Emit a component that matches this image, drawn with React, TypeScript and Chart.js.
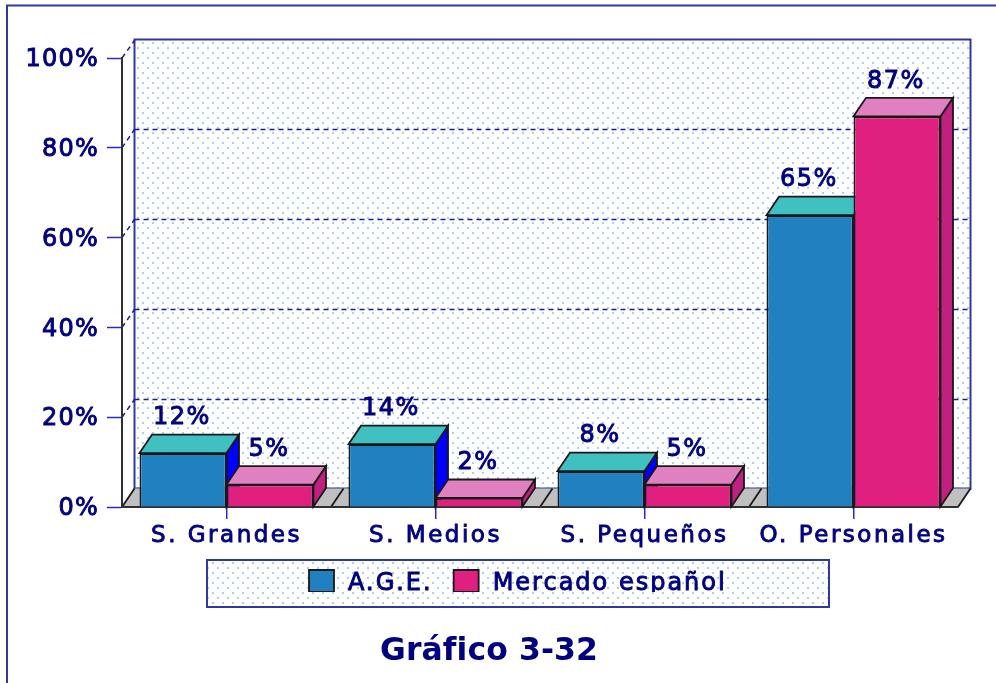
import React, { useEffect, useRef } from "react";
import { Chart, registerables } from "chart.js";

Chart.register(...registerables);

const categories = ["S. Grandes", "S. Medios", "S. Pequeños", "O. Personales"];
const seriesNames = ["A.G.E.", "Mercado español"];
const ageValues = [12, 14, 8, 65];
const mercadoValues = [5, 2, 5, 87];
const chartTitle = "Gráfico 3-32";

const NAVY = "#000080";
const AXIS_BLUE = "#2a2ac8";
const FRAME = "#3038a0";
const EDGE = "#181818";
const FACES = [
  { front: "#2080C0", top: "#40C0C0", side: "#0000FF" },
  { front: "#E0207F", top: "#E080C0", side: "#C02080" },
];
const DX = 12.5;
const DY = 18.5;
const FONT = "'DejaVu Sans', sans-serif";
const TEXT_STROKE = 0.9;

function makePattern(ctx: CanvasRenderingContext2D) {
  const c = document.createElement("canvas");
  c.width = 10;
  c.height = 10;
  const p = c.getContext("2d")!;
  p.fillStyle = "#ffffff";
  p.fillRect(0, 0, 10, 10);
  p.fillStyle = "#a8d0f4";
  p.fillRect(2, 2, 2, 2);
  p.fillRect(7, 7, 2, 2);
  return ctx.createPattern(c, "repeat")!;
}

function quad(ctx: CanvasRenderingContext2D, pts: number[][], fill: string | CanvasPattern | null, stroke: string | null, lw = 1.8) {
  ctx.beginPath();
  pts.forEach((p, i) => (i ? ctx.lineTo(p[0], p[1]) : ctx.moveTo(p[0], p[1])));
  ctx.closePath();
  if (fill) {
    ctx.fillStyle = fill as any;
    ctx.fill();
  }
  if (stroke) {
    ctx.strokeStyle = stroke;
    ctx.lineWidth = lw;
    ctx.lineJoin = "miter";
    ctx.stroke();
  }
}

// Runs a box's draw step with letter spacing and a small text nudge; the
// bundled fonts are narrower and sit higher than the reference's typeface.
function wrapText(obj: any, method: string, spacing: string, ctx: any, dx: number, dy: number, bolden: boolean) {
  const key = "__wrapped_" + method;
  if (obj[key]) return;
  obj[key] = true;
  const orig = obj[method];
  const proto = CanvasRenderingContext2D.prototype;
  obj[method] = function (...args: any[]) {
    ctx.letterSpacing = spacing;
    ctx.fillText = function (t: string, x: number, y: number, m?: number) {
      if (bolden) {
        ctx.save();
        ctx.strokeStyle = NAVY;
        ctx.lineWidth = TEXT_STROKE;
        proto.strokeText.call(ctx, t, x + dx, y + dy);
        ctx.restore();
      }
      if (m === undefined) proto.fillText.call(ctx, t, x + dx, y + dy);
      else proto.fillText.call(ctx, t, x + dx, y + dy, m);
    };
    orig.apply(this, args);
    delete ctx.fillText;
    ctx.letterSpacing = "0px";
  };
}

const scene3d = {
  id: "scene3d",
  beforeLayout(chart: any) {
    chart.ctx.letterSpacing = "2px";
    for (const box of [chart.legend, chart.titleBlock]) {
      if (box && !box.__zero) {
        box.__zero = true;
        const orig = box.update;
        box.update = function (...args: any[]) {
          orig.apply(this, args);
          this.height = 0;
        };
      }
    }
  },
  afterLayout(chart: any) {
    chart.ctx.letterSpacing = "0px";
  },
  beforeDraw(chart: any) {
    const { ctx, scales } = chart;
    const pattern = makePattern(ctx);
    const x = scales.x;
    const y = scales.y;
    const left = x.left;
    const right = x.right;
    const base = y.getPixelForValue(0);
    const top = y.getPixelForValue(100);

    wrapText(y, "drawLabels", "1.2px", ctx, 0, 2, true);
    wrapText(x, "drawLabels", "2.5px", ctx, 0, 3, true);
    wrapText(chart.legend, "draw", "2px", ctx, 2, 3, true);
    wrapText(chart.titleBlock, "draw", "0.1px", ctx, 0, 0, false);

    const lg = chart.legend;
    const pad = lg.options.labels.padding;
    lg.left = 309 - pad;
    lg.right = 829;
    lg.top = 569 - pad;
    lg.bottom = 592;
    const tb = chart.titleBlock;
    tb.left = 380;
    tb.right = 598;
    tb.top = 636;
    tb.bottom = 668;

    ctx.save();
    // outer frame
    ctx.strokeStyle = FRAME;
    ctx.lineWidth = 2;
    ctx.beginPath();
    ctx.moveTo(7, 683);
    ctx.lineTo(7, 5.5);
    ctx.lineTo(996, 5.5);
    ctx.stroke();

    // back wall
    quad(ctx, [[left + DX, top - DY], [right + DX, top - DY], [right + DX, base - DY], [left + DX, base - DY]], pattern, FRAME, 2);

    // wall gridlines with their slanted side stubs
    ctx.strokeStyle = "#1818a0";
    ctx.lineWidth = 1.5;
    ctx.setLineDash([5, 4]);
    y.ticks.forEach((t: any) => {
      if (t.value % 20 !== 0 || t.value === 0) return;
      const py = y.getPixelForValue(t.value);
      const wy = Math.round(py - DY) + 0.5;
      ctx.beginPath();
      if (t.value !== 100) {
        ctx.moveTo(left + DX, wy);
        ctx.lineTo(right + DX, wy);
      }
      ctx.moveTo(left, py);
      ctx.lineTo(left + DX, wy);
      ctx.stroke();
    });
    ctx.setLineDash([]);

    // floor
    quad(ctx, [[left, base], [left + DX, base - DY], [right + DX, base - DY], [right, base]], "#C0C0C0", null);
    ctx.strokeStyle = EDGE;
    ctx.lineWidth = 1.8;
    for (let i = 0; i <= categories.length; i++) {
      const px = left + ((right - left) * i) / categories.length;
      ctx.beginPath();
      ctx.moveTo(px, base);
      ctx.lineTo(px + DX, base - DY);
      ctx.stroke();
    }
    // legend box
    quad(ctx, [[207, 560], [829, 560], [829, 607], [207, 607]], pattern, FRAME, 2);

    // minor ticks
    ctx.strokeStyle = "#303030";
    ctx.lineWidth = 2;
    y.ticks.forEach((t: any) => {
      if (t.value % 20 === 0) return;
      const py = Math.round(y.getPixelForValue(t.value));
      ctx.beginPath();
      ctx.moveTo(left - 8, py);
      ctx.lineTo(left, py);
      ctx.stroke();
    });
    ctx.restore();
  },
  // Native drawing paints the left series last; the picture needs it first.
  beforeDatasetDraw() {
    return false;
  },
  afterDatasetsDraw(chart: any) {
    const { ctx } = chart;
    FACES.forEach((face, index) => {
      const meta = chart.getDatasetMeta(index);
      ctx.save();
      meta.data.forEach((bar: any) => {
        const l = bar.x - bar.width / 2;
        const r = bar.x + bar.width / 2;
        const t = bar.y;
        const b = bar.base;
        quad(ctx, [[r, t], [r + DX, t - DY], [r + DX, b - DY], [r, b]], face.side, EDGE);
        quad(ctx, [[l, t], [l + DX, t - DY], [r + DX, t - DY], [r, t]], face.top, EDGE);
      });
      ctx.restore();
      meta.controller.draw();
    });
  },
  afterDraw(chart: any) {
    const { ctx } = chart;
    ctx.save();
    ctx.font = `24px ${FONT}`;
    ctx.fillStyle = NAVY;
    ctx.strokeStyle = NAVY;
    ctx.lineWidth = TEXT_STROKE;
    ctx.textAlign = "center";
    ctx.textBaseline = "middle";
    (ctx as any).letterSpacing = "1.5px";
    chart.data.datasets.forEach((ds: any, di: number) => {
      chart.getDatasetMeta(di).data.forEach((bar: any, i: number) => {
        const text = ds.data[i] + "%";
        const px = bar.x - 1;
        const py = bar.y - 35;
        ctx.strokeText(text, px, py);
        ctx.fillText(text, px, py);
      });
    });
    (ctx as any).letterSpacing = "0px";
    ctx.restore();
  },
};

export default function App() {
  const ref = useRef<HTMLCanvasElement>(null);
  useEffect(() => {
    const chart = new Chart(ref.current!, {
      type: "bar",
      data: {
        labels: categories,
        datasets: [
          { label: seriesNames[0], data: ageValues, backgroundColor: FACES[0].front, borderColor: EDGE, borderWidth: 1.8 },
          { label: seriesNames[1], data: mercadoValues, backgroundColor: FACES[1].front, borderColor: EDGE, borderWidth: 1.8 },
        ],
      },
      plugins: [scene3d as any],
      options: {
        animation: false,
        responsive: false,
        events: [],
        layout: { padding: { left: 0, right: 38, top: 58, bottom: 0 } },
        datasets: { bar: { categoryPercentage: 0.8325, barPercentage: 1 } },
        scales: {
          x: {
            afterFit(s: any) { s.height = 176; },
            grid: { offset: false, drawOnChartArea: false, color: AXIS_BLUE, tickColor: AXIS_BLUE, tickLength: 12, tickWidth: 1.5, lineWidth: 1.5 },
            border: { color: "#303030", width: 2 },
            ticks: { color: NAVY, padding: 0, maxRotation: 0, autoSkip: false, font: { family: FONT, size: 23 } },
          },
          y: {
            min: 0,
            max: 100,
            afterFit(s: any) { s.width = 122; },
            grid: { drawOnChartArea: false, tickLength: 15, tickWidth: 1.5, tickColor: (c: any) => (c.tick.value % 20 === 0 ? AXIS_BLUE : "transparent") },
            border: { color: "#303030", width: 2 },
            ticks: {
              stepSize: 10,
              autoSkip: false,
              padding: 8,
              color: NAVY,
              font: { family: FONT, size: 24 },
              callback: (v: any) => (v % 20 === 0 ? v + "%" : null),
            },
          },
        },
        plugins: {
          legend: {
            display: true,
            position: "bottom",
            align: "start",
            labels: {
              boxWidth: 25,
              boxHeight: 22,
              padding: 23,
              color: NAVY,
              font: { family: FONT, size: 24 },
            },
          },
          title: {
            display: true,
            text: chartTitle,
            position: "bottom",
            color: NAVY,
            padding: 0,
            font: { family: FONT, size: 32, weight: "bold", lineHeight: 1 },
          },
          tooltip: { enabled: false },
        },
      } as any,
    });
    return () => chart.destroy();
  }, []);
  return (
    <div style={{ position: "absolute", left: 0, top: 0, width: 996, height: 683, overflow: "hidden", background: "#fff" }}>
      <canvas ref={ref} width={996} height={683} style={{ display: "block" }} />
    </div>
  );
}
